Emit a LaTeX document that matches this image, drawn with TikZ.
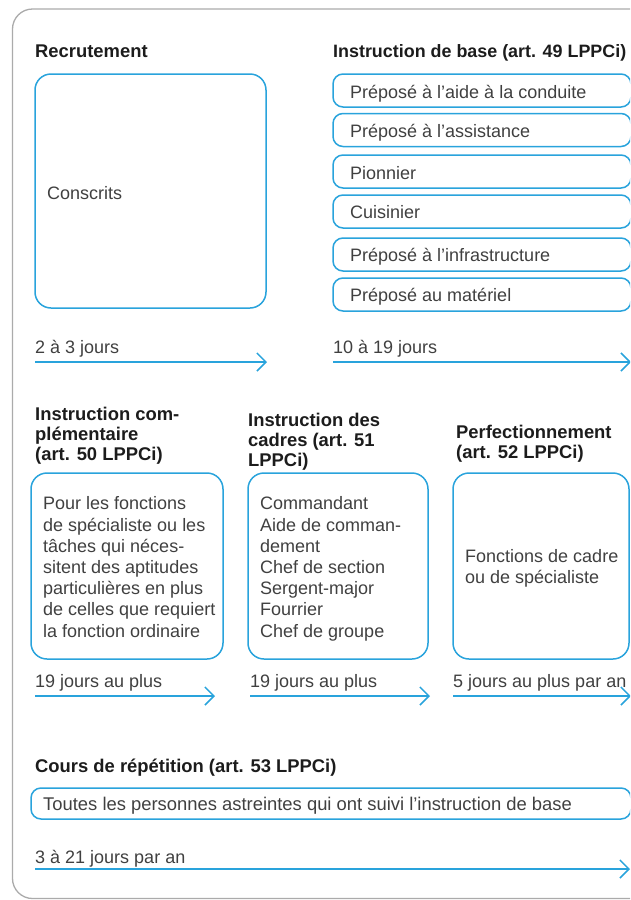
\documentclass[tikz,border=0pt]{standalone}
\usepackage{fontspec}
\setmainfont{Liberation Sans}
\usepackage{tikz}
\usetikzlibrary{arrows.meta}
\usepackage{xcolor}
\definecolor{color29a3dc}{HTML}{29A3DC}
\definecolor{color404040}{HTML}{404040}
\definecolor{color1c1c1c}{HTML}{1C1C1C}
\definecolor{colorababab}{HTML}{ABABAB}

\begin{document}
\begin{tikzpicture}
    [>={Straight Barb[length=9pt,width=18pt]},  % Uniform arrow style
     x=1pt, y=-1pt,
     headtext/.style={anchor=base west, inner sep=0pt, align=left, text=color1c1c1c, font=\fontsize{18.4}{20}\selectfont\bfseries},
     bodytext/.style={anchor=base west, inner sep=0pt, align=left, text=color404040, font=\fontsize{18}{21.2}\selectfont},
     bigbox/.style={rectangle, draw=color29a3dc, line width=1.5pt, rounded corners=16pt, inner sep=0pt},
     rowbox/.style={rectangle, draw=color29a3dc, line width=1.5pt, rounded corners=10pt, inner sep=0pt},
     duration/.style={->, draw=color29a3dc, line width=1.5pt},
    ]

\useasboundingbox (0,0) rectangle (630,900);
\clip (0,0) rectangle (630,900);
\draw[draw=colorababab, line width=1.3pt, rounded corners=20pt] (12.5,9) rectangle (700,898.5);

% first row
\node[headtext] (node_recrutement) at (35,57) {Recrutement};
\node[headtext, font=\fontsize{17.9}{20}\selectfont\bfseries] (node_base) at (333,57) {Instruction de base (art. 49 LPPCi)};
\node[bigbox, minimum width=231pt, minimum height=234pt] (node_conscrits_box) at (150.5,191) {};
\node[bodytext] (node_conscrits) at (47,199) {Conscrits};

\node[rowbox, minimum width=298pt, minimum height=33pt] (node_b1_box) at (482,90.5) {};
\node[rowbox, minimum width=298pt, minimum height=33pt] (node_b2_box) at (482,130) {};
\node[rowbox, minimum width=298pt, minimum height=33pt] (node_b3_box) at (482,171.5) {};
\node[rowbox, minimum width=298pt, minimum height=33pt] (node_b4_box) at (482,211.5) {};
\node[rowbox, minimum width=298pt, minimum height=33pt] (node_b5_box) at (482,254.5) {};
\node[rowbox, minimum width=298pt, minimum height=33pt] (node_b6_box) at (482,294.5) {};
\node[bodytext] (node_b1) at (350,98) {Préposé à l’aide à la conduite};
\node[bodytext] (node_b2) at (350,137) {Préposé à l’assistance};
\node[bodytext] (node_b3) at (350,179) {Pionnier};
\node[bodytext] (node_b4) at (350,218.5) {Cuisinier};
\node[bodytext] (node_b5) at (350,261.5) {Préposé à l’infrastructure};
\node[bodytext] (node_b6) at (350,301.5) {Préposé au matériel};

\node[bodytext] (node_dur_rec) at (35,353) {2 à 3 jours};
\node[bodytext] (node_dur_base) at (333,353) {10 à 19 jours};
\coordinate (dur_rec_from) at (35,362);
\coordinate (dur_rec_to) at (267,362);
\coordinate (dur_base_from) at (333,362);
\coordinate (dur_base_to) at (631,362);
\draw[duration] (dur_rec_from) -- (dur_rec_to);
\draw[duration] (dur_base_from) -- (dur_base_to);

% second row (base = last line)
\node[headtext] (node_compl) at (35,460.5) {Instruction com-\\plémentaire\\(art. 50 LPPCi)};
\node[headtext] (node_cadres) at (248,466) {Instruction des\\cadres (art. 51\\LPPCi)};
\node[headtext] (node_perf) at (456,458.5) {Perfectionnement\\(art. 52 LPPCi)};
\node[bigbox, minimum width=192pt, minimum height=186pt] (node_compl_box) at (127,566) {};
\node[bigbox, minimum width=180pt, minimum height=186pt] (node_cadres_box) at (338,566) {};
\node[bigbox, minimum width=176pt, minimum height=186pt] (node_perf_box) at (541,566) {};
\node[bodytext] (node_compl_text) at (43,637) {Pour les fonctions\\de spécialiste ou les\\tâches qui néces-\\sitent des aptitudes\\particulières en plus\\de celles que requiert\\la fonction ordinaire};
\node[bodytext] (node_cadres_text) at (260,637) {Commandant\\Aide de comman-\\dement\\Chef de section\\Sergent-major\\Fourrier\\Chef de groupe};
\node[bodytext] (node_perf_text) at (465,583.5) {Fonctions de cadre\\ou de spécialiste};

\node[bodytext] (node_dur_compl) at (35,687) {19 jours au plus};
\node[bodytext] (node_dur_cadres) at (250,687) {19 jours au plus};
\node[bodytext] (node_dur_perf) at (453,687) {5 jours au plus par an};
\coordinate (dur_compl_from) at (35,696);
\coordinate (dur_compl_to) at (215,696);
\coordinate (dur_cadres_from) at (250,696);
\coordinate (dur_cadres_to) at (430,696);
\coordinate (dur_perf_from) at (453,696);
\coordinate (dur_perf_to) at (631,696);
\draw[duration] (dur_compl_from) -- (dur_compl_to);
\draw[duration] (dur_cadres_from) -- (dur_cadres_to);
\draw[duration] (dur_perf_from) -- (dur_perf_to);

% third row
\node[headtext] (node_cours) at (35,772) {Cours de répétition (art. 53 LPPCi)};
\node[rowbox, minimum width=600pt, minimum height=31pt] (node_cours_box) at (331,803.5) {};
\node[bodytext, font=\fontsize{18.4}{21.2}\selectfont] (node_cours_text) at (43,810) {Toutes les personnes astreintes qui ont suivi l’instruction de base};
\node[bodytext] (node_dur_cours) at (35,863) {3 à 21 jours par an};
\coordinate (dur_cours_from) at (35,869);
\coordinate (dur_cours_to) at (630,869);
\draw[duration] (dur_cours_from) -- (dur_cours_to);

\end{tikzpicture}
\end{document}
